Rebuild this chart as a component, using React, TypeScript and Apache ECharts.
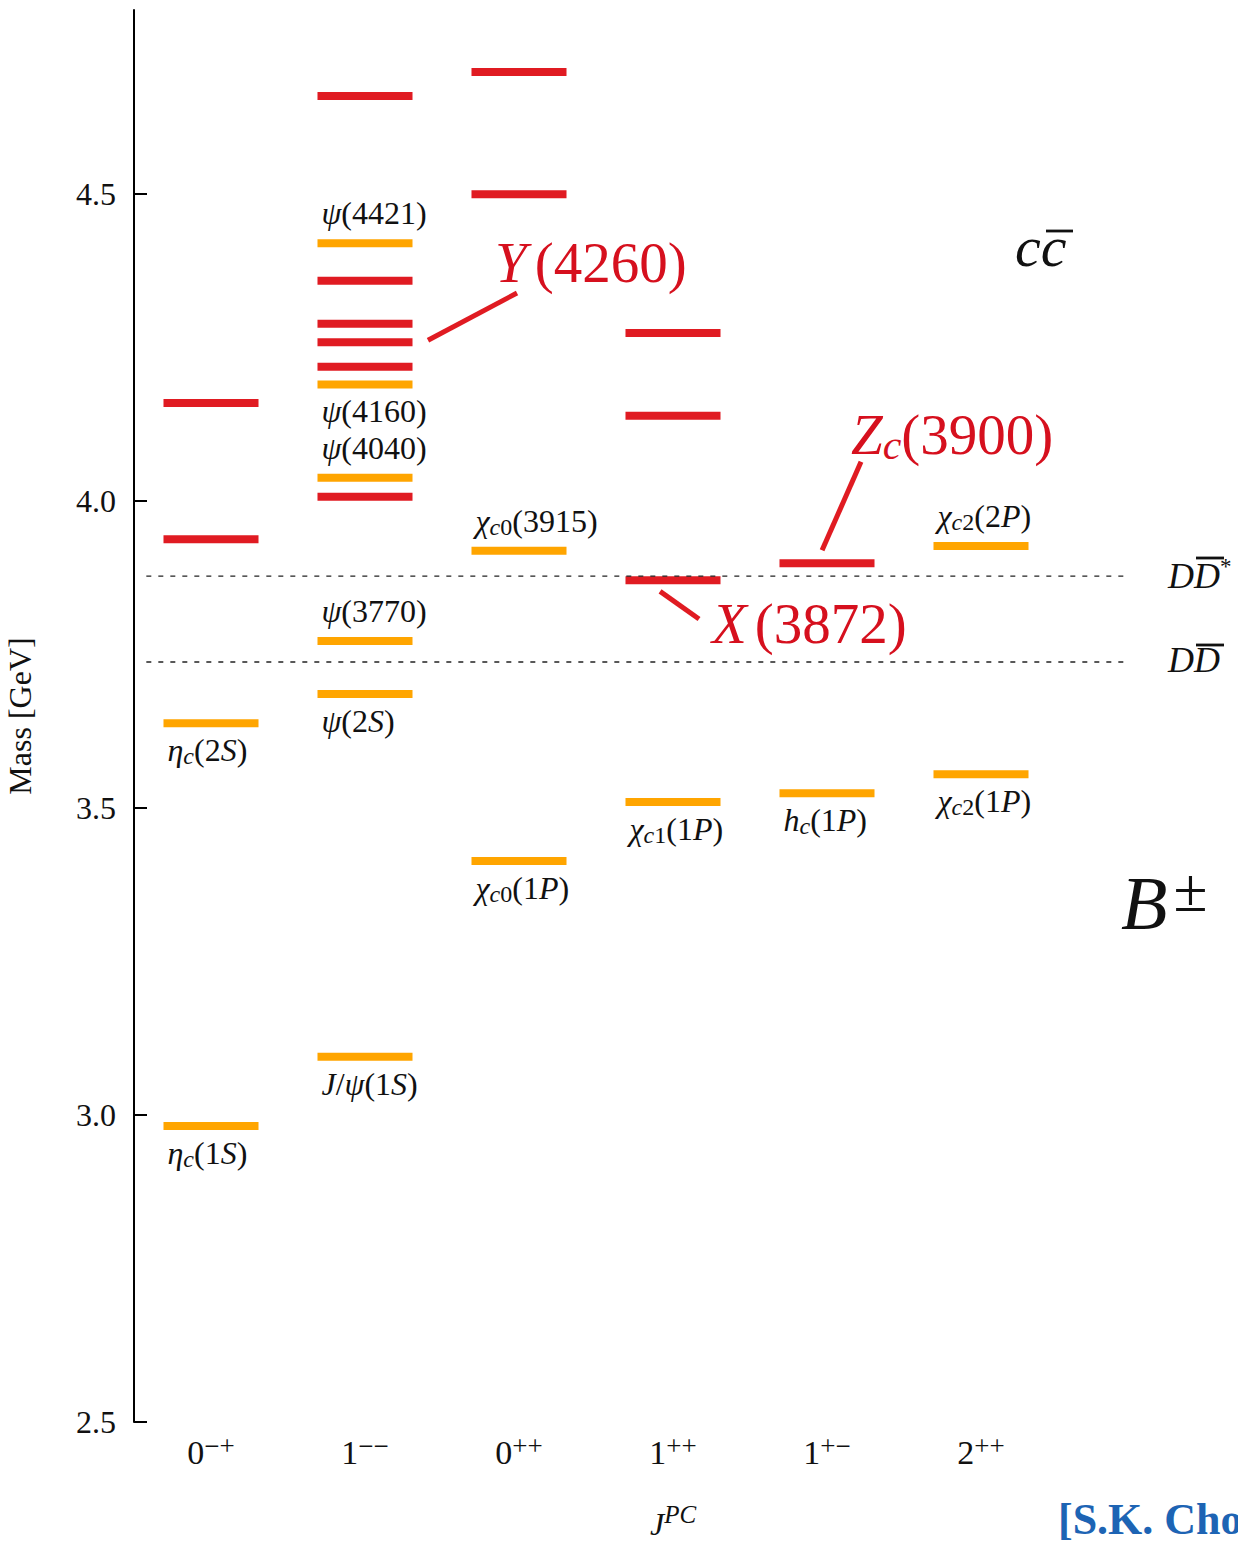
import React, { useEffect, useRef } from "react";
import * as echarts from "echarts";

// J^PC columns: spin and parity/charge-conjugation superscripts
const jpcSpin = ["0", "1", "0", "1", "1", "2"];
const jpcPC = ["\u2212+", "\u2212\u2212", "++", "++", "+\u2212", "++"];

// Conventional charmonium levels (column index, mass in GeV, label side: 1 above, -1 below)
const ccColumn = [0, 0, 1, 1, 1, 1, 1, 1, 2, 2, 3, 4, 5, 5];
const ccMass = [2.982, 3.638, 3.095, 3.686, 3.772, 4.038, 4.19, 4.42, 3.414, 3.919, 3.51, 3.524, 3.555, 3.927];
const ccSide = [-1, -1, -1, -1, 1, 1, -1, 1, -1, 1, -1, -1, -1, 1];
const ccName = [
  "{i|\u03b7}{subi|c}{n|(1}{i|S}{n|)}",
  "{i|\u03b7}{subi|c}{n|(2}{i|S}{n|)}",
  "{i|J}{n|/}{i|\u03c8}{n|(1}{i|S}{n|)}",
  "{i|\u03c8}{n|(2}{i|S}{n|)}",
  "{i|\u03c8}{n|(3770)}",
  "{i|\u03c8}{n|(4040)}",
  "{i|\u03c8}{n|(4160)}",
  "{i|\u03c8}{n|(4421)}",
  "{i|\u03c7}{subi|c}{sub|0}{n|(1}{i|P}{n|)}",
  "{i|\u03c7}{subi|c}{sub|0}{n|(3915)}",
  "{i|\u03c7}{subi|c}{sub|1}{n|(1}{i|P}{n|)}",
  "{i|h}{subi|c}{n|(1}{i|P}{n|)}",
  "{i|\u03c7}{subi|c}{sub|2}{n|(1}{i|P}{n|)}",
  "{i|\u03c7}{subi|c}{sub|2}{n|(2}{i|P}{n|)}",
];

// Predicted / exotic levels
const exColumn = [0, 0, 1, 1, 1, 1, 1, 1, 2, 2, 3, 3, 3, 4];
const exMass = [3.938, 4.16, 4.007, 4.219, 4.259, 4.289, 4.359, 4.66, 4.5, 4.699, 3.871, 4.139, 4.274, 3.899];

// Open-charm thresholds (GeV)
const thresholdMass = [3.878, 3.738];
const thresholdSpan = [0.08, 6.45];

// Leader lines from the exotic-state labels to their levels: [x0, m0, x1, m1]
const leaderLines = [
  [1.909, 4.262, 2.487, 4.339],
  [3.416, 3.853, 3.669, 3.808],
  [4.468, 3.92, 4.721, 4.064],
];

const yTicks = [2.5, 3.0, 3.5, 4.0, 4.5];

const ORANGE = "#ffa500";
const RED = "#e01b22";
const LABEL_RED = "#d6101e";
const INK = "#111111";
const SERIF = "'Liberation Serif', 'DejaVu Serif', serif";

function richSet(size: number, color: string, smallRatio = 0.74, raise = 0.62) {
  const small = Math.round(size * smallRatio);
  const base = { fontFamily: SERIF, color, fill: color };
  const up = [0, 0, Math.round(size * raise), 0];
  const down = [Math.round(size * 0.36), 0, 0, 0];
  return {
    n: { ...base, fontSize: size },
    i: { ...base, fontSize: size, fontStyle: "italic" },
    ip: { ...base, fontSize: size, fontStyle: "italic", padding: [0, Math.round(size * 0.14), 0, 0] },
    sup: { ...base, fontSize: small, padding: up },
    supi: { ...base, fontSize: small, fontStyle: "italic", padding: up },
    sub: { ...base, fontSize: small, padding: down },
    subi: { ...base, fontSize: small, fontStyle: "italic", padding: down },
  };
}

function levelSeries(name: string, cols: number[], masses: number[], color: string, labels?: string[], sides?: number[]) {
  const levelRich = richSet(32, INK);
  return {
    type: "custom",
    name,
    xAxisIndex: 0,
    yAxisIndex: 0,
    z: 3,
    data: cols.map((c, k) => [c, masses[k], sides ? sides[k] : 0]),
    encode: { x: 0, y: 1 },
    renderItem: (params: any, api: any) => {
      const p = api.coord([api.value(0), api.value(1)]);
      const band = api.size([1, 0])[0];
      const w = band * 0.617;
      const children: any[] = [
        {
          type: "rect",
          shape: { x: p[0] - w / 2, y: p[1] - 4, width: w, height: 8 },
          style: { fill: color },
        },
      ];
      if (labels) {
        const side = api.value(2);
        children.push({
          type: "text",
          style: {
            text: labels[params.dataIndex],
            rich: levelRich,
            x: p[0] - w / 2 + 4,
            y: side > 0 ? p[1] - 30 : p[1] + 27,
            align: "left",
            verticalAlign: "middle",
          },
        });
      }
      return { type: "group", children };
    },
  };
}

export default function App() {
  const ref = useRef<HTMLDivElement>(null);

  useEffect(() => {
    if (!ref.current) return;
    const chart = echarts.init(ref.current, null, { renderer: "svg" });

    const tickRich = richSet(34, INK, 0.8, 0.42);
    const nameRich = richSet(32, INK, 0.78, 0.55);
    const bigRed = richSet(57, LABEL_RED);
    const thrRich = richSet(36, INK, 0.65, 0.55);
    const bRich = {
      b: { fontFamily: SERIF, fontSize: 76, fontStyle: "italic", fill: INK, padding: [0, 6, 0, 0] },
      pm: { fontFamily: SERIF, fontSize: 62, fill: INK, padding: [0, 0, 26, 0] },
    };

    const option: any = {
      animation: false,
      backgroundColor: "#ffffff",
      grid: { left: 134, right: 26, top: 10, bottom: 119, outerBoundsMode: "none" },
      xAxis: [
        {
          type: "category",
          data: [...jpcSpin.map((s, k) => s + jpcPC[k]), ""],
          boundaryGap: true,
          axisLine: { show: false },
          axisTick: { show: false },
          splitLine: { show: false },
          axisLabel: {
            interval: 0,
            margin: 10,
            formatter: (_v: string, k: number) => (k < jpcSpin.length ? `{n|${jpcSpin[k]}}{sup|${jpcPC[k]}}` : ""),
            rich: tickRich,
          },
          name: "{i|J}{supi|PC}",
          nameLocation: "middle",
          nameGap: 80,
          nameTextStyle: { rich: nameRich },
        },
        { type: "value", min: 0, max: 7, show: false },
      ],
      yAxis: {
        type: "value",
        min: 2.5,
        max: 4.8,
        interval: 0.5,
        axisLine: { show: true, lineStyle: { color: "#000", width: 2 } },
        axisTick: { show: true, inside: true, length: 13, lineStyle: { color: "#000", width: 2 }, customValues: yTicks },
        splitLine: { show: false },
        axisLabel: {
          margin: 18,
          fontSize: 32,
          fontFamily: SERIF,
          color: INK,
          customValues: yTicks,
          formatter: (v: number) => v.toFixed(1),
        },
        name: "Mass [GeV]",
        nameLocation: "middle",
        nameGap: 98,
        nameTextStyle: { fontSize: 32, fontFamily: SERIF, color: INK },
      },
      series: [
        levelSeries("conventional", ccColumn, ccMass, ORANGE, ccName, ccSide),
        levelSeries("exotic", exColumn, exMass, RED),
        ...thresholdMass.map((m, k) => ({
          type: "line",
          name: "threshold" + k,
          xAxisIndex: 1,
          z: 5,
          symbol: "none",
          silent: true,
          data: [
            [thresholdSpan[0], m],
            [thresholdSpan[1], m],
          ],
          lineStyle: { color: "#222", width: 1.3, type: [5, 7] },
        })),
        ...leaderLines.map((l, k) => ({
          type: "line",
          name: "leader" + k,
          xAxisIndex: 1,
          z: 4,
          symbol: "none",
          silent: true,
          data: [
            [l[0], l[1]],
            [l[2], l[3]],
          ],
          lineStyle: { color: RED, width: 5, cap: "butt" },
        })),
      ],
      graphic: [
        { type: "text", x: 495, y: 262, style: { text: "{ip|Y}{n|(4260)}", rich: bigRed, verticalAlign: "middle" } },
        { type: "text", x: 712, y: 623, style: { text: "{ip|X}{n|(3872)}", rich: bigRed, verticalAlign: "middle" } },
        { type: "text", x: 851, y: 434, style: { text: "{i|Z}{subi|c}{n|(3900)}", rich: bigRed, verticalAlign: "middle" } },
        // threshold labels
        { type: "text", x: 1168, y: 576, style: { text: "{i|DD}{sup|*}", rich: thrRich, verticalAlign: "middle" } },
        { type: "line", shape: { x1: 1196, y1: 558, x2: 1224, y2: 558 }, style: { stroke: INK, lineWidth: 2.8 } },
        { type: "text", x: 1168, y: 660, style: { text: "{i|DD}", rich: thrRich, verticalAlign: "middle" } },
        { type: "line", shape: { x1: 1196, y1: 645, x2: 1224, y2: 645 }, style: { stroke: INK, lineWidth: 2.8 } },
        // quark content and production channel
        {
          type: "text",
          x: 1015,
          y: 246,
          style: { text: "cc", font: `italic 58px ${SERIF}`, fill: INK, verticalAlign: "middle" },
        },
        { type: "line", shape: { x1: 1046, y1: 231, x2: 1073, y2: 231 }, style: { stroke: INK, lineWidth: 2.8 } },
        { type: "text", x: 1121, y: 903, style: { text: "{b|B}{pm|\u00b1}", rich: bRich, verticalAlign: "middle" } },
        {
          type: "text",
          x: 1058,
          y: 1519,
          style: { text: "[S.K. Choi]", font: `bold 44px ${SERIF}`, fill: "#1d64b4", verticalAlign: "middle" },
        },
      ],
    };

    chart.setOption(option);
    return () => chart.dispose();
  }, []);

  return (
    <div
      ref={ref}
      style={{ position: "absolute", left: 0, top: 0, width: 1238, height: 1541, background: "#fff", overflow: "hidden" }}
    />
  );
}
